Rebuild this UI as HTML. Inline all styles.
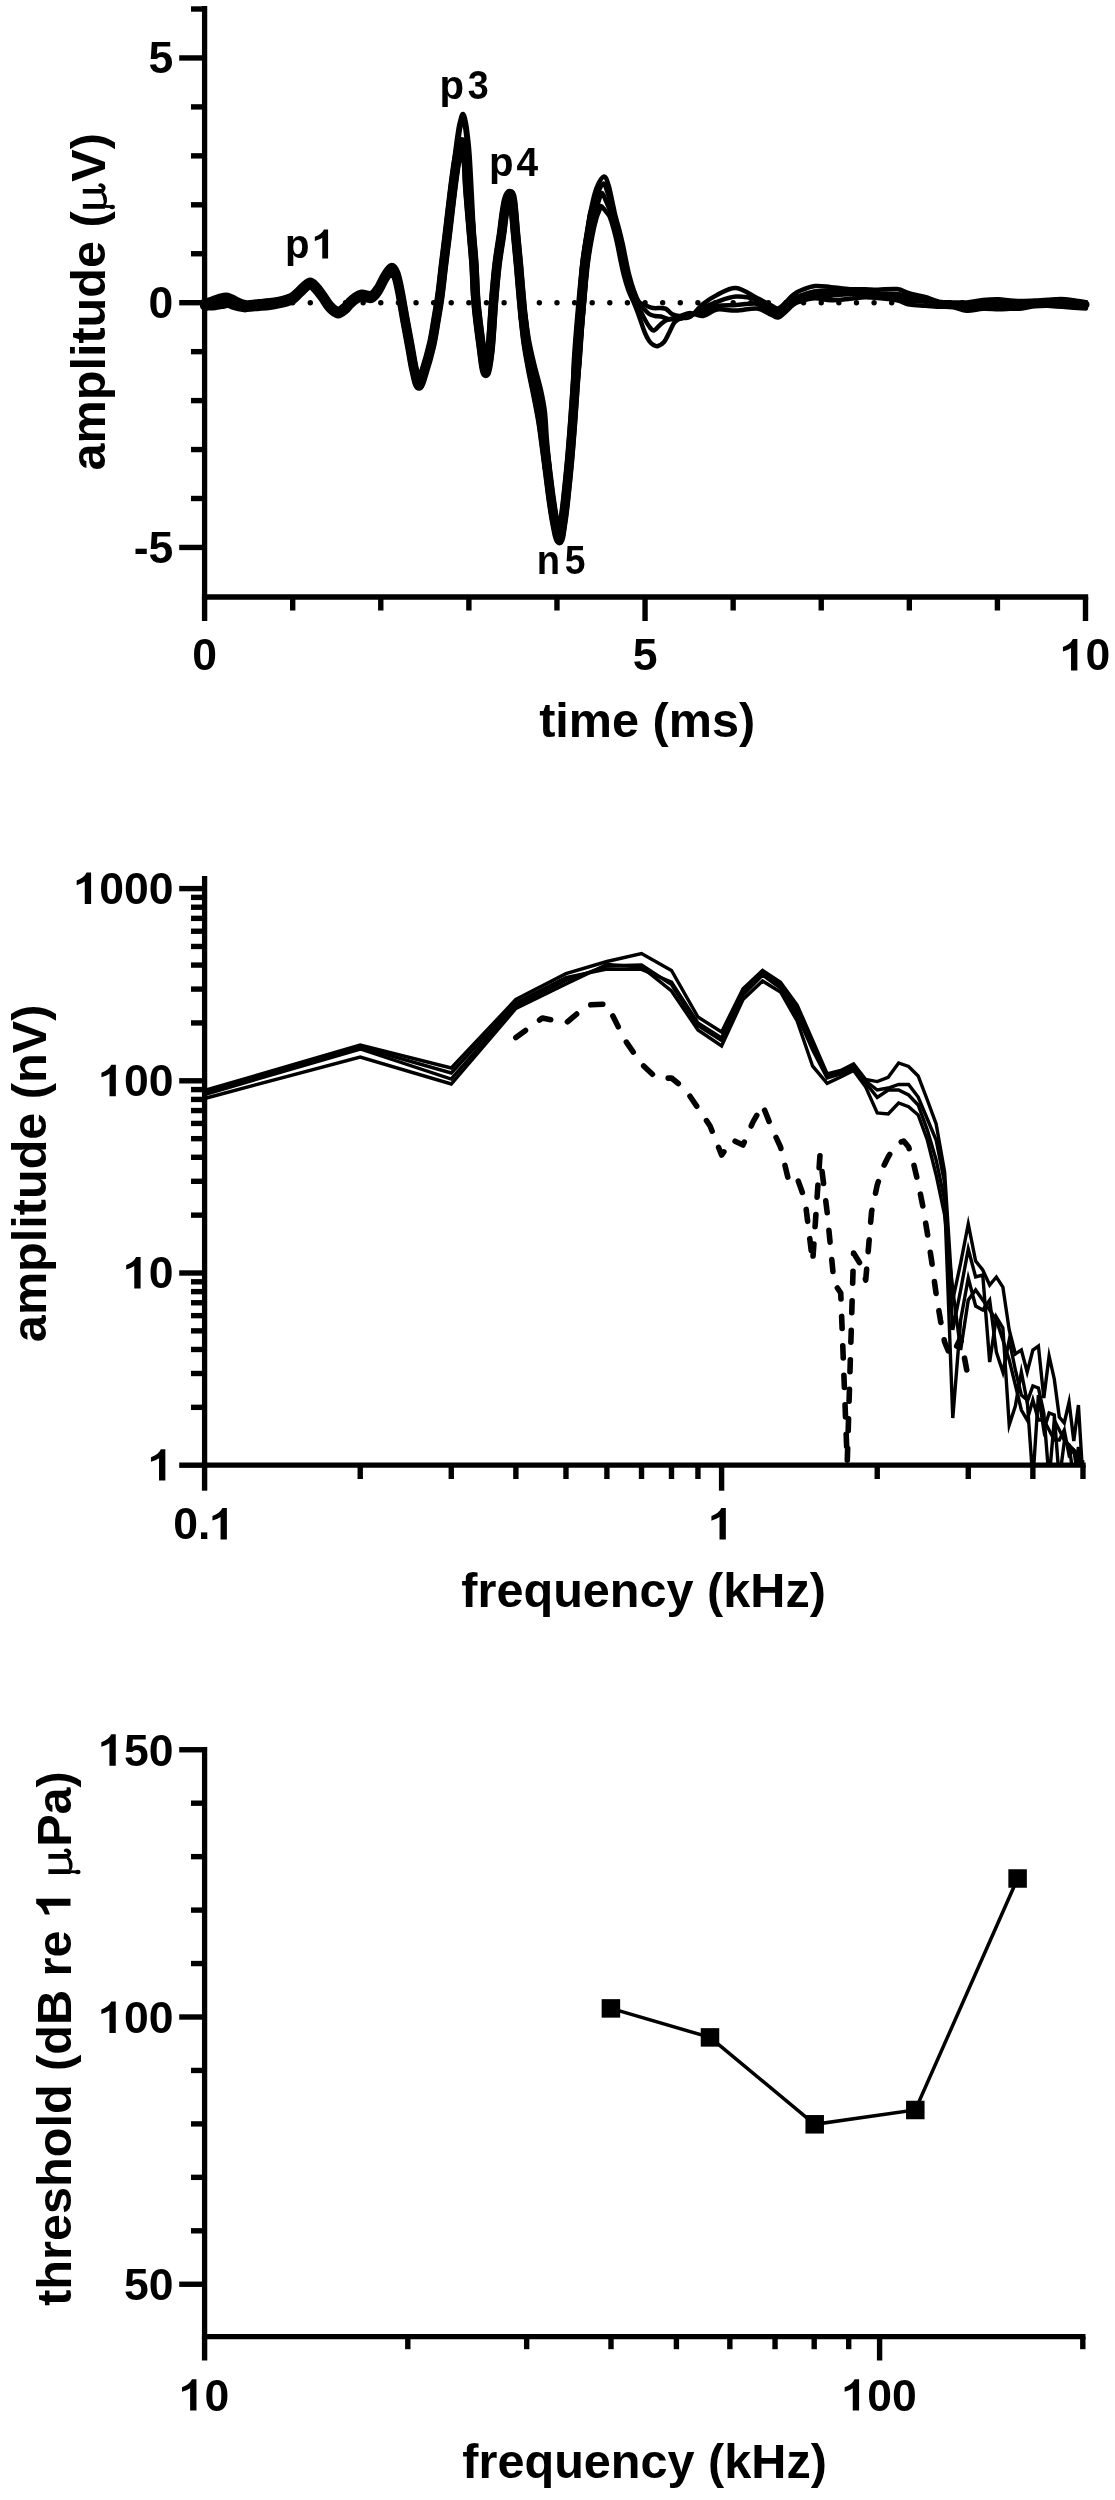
<!DOCTYPE html>
<html><head><meta charset="utf-8"><title>figure</title>
<style>
html,body{margin:0;padding:0;background:#fff;}
svg{display:block;will-change:transform;}
.t{font-family:"Liberation Sans",sans-serif;font-weight:bold;}
.mu{font-family:"Liberation Serif",serif;font-weight:normal;}
</style></head><body>
<svg width="1115" height="2500" viewBox="0 0 1115 2500">
<rect width="1115" height="2500" fill="#fff"/>
<g stroke="#000" stroke-linecap="butt" fill="none">
<line x1="204.6" y1="6" x2="204.6" y2="599.65" stroke-width="5.3"/>
<line x1="179.2" y1="547.45" x2="204.6" y2="547.45" stroke-width="5.4"/>
<line x1="179.2" y1="302.7" x2="204.6" y2="302.7" stroke-width="5.4"/>
<line x1="179.2" y1="57.95" x2="204.6" y2="57.95" stroke-width="5.4"/>
<line x1="191" y1="498.5" x2="204.6" y2="498.5" stroke-width="5.4"/>
<line x1="191" y1="449.55" x2="204.6" y2="449.55" stroke-width="5.4"/>
<line x1="191" y1="400.6" x2="204.6" y2="400.6" stroke-width="5.4"/>
<line x1="191" y1="351.65" x2="204.6" y2="351.65" stroke-width="5.4"/>
<line x1="191" y1="253.75" x2="204.6" y2="253.75" stroke-width="5.4"/>
<line x1="191" y1="204.8" x2="204.6" y2="204.8" stroke-width="5.4"/>
<line x1="191" y1="155.85" x2="204.6" y2="155.85" stroke-width="5.4"/>
<line x1="191" y1="106.9" x2="204.6" y2="106.9" stroke-width="5.4"/>
<line x1="191" y1="9" x2="204.6" y2="9" stroke-width="5.4"/>
<line x1="201.95" y1="597" x2="1088.2" y2="597" stroke-width="5.3"/>
<line x1="204.6" y1="597" x2="204.6" y2="621" stroke-width="5.4"/>
<line x1="645.05" y1="597" x2="645.05" y2="621" stroke-width="5.4"/>
<line x1="1085.5" y1="597" x2="1085.5" y2="621" stroke-width="5.4"/>
<line x1="292.69" y1="597" x2="292.69" y2="610.5" stroke-width="5.4"/>
<line x1="380.78" y1="597" x2="380.78" y2="610.5" stroke-width="5.4"/>
<line x1="468.87" y1="597" x2="468.87" y2="610.5" stroke-width="5.4"/>
<line x1="556.96" y1="597" x2="556.96" y2="610.5" stroke-width="5.4"/>
<line x1="733.14" y1="597" x2="733.14" y2="610.5" stroke-width="5.4"/>
<line x1="821.23" y1="597" x2="821.23" y2="610.5" stroke-width="5.4"/>
<line x1="909.32" y1="597" x2="909.32" y2="610.5" stroke-width="5.4"/>
<line x1="997.41" y1="597" x2="997.41" y2="610.5" stroke-width="5.4"/>
</g>
<g fill="#000">
<text class="t" x="148.45" y="73.25" font-size="44.5">5</text>
<text class="t" x="148.45" y="318" font-size="44.5">0</text>
<text class="t" x="133.63 148.45" y="562.75" font-size="44.5">-5</text>
<text class="t" x="192.23" y="670.4" font-size="44.5">0</text>
<text class="t" x="632.68" y="670.4" font-size="44.5">5</text>
<path transform="translate(1060.75 670.4) scale(44.5)" d="M0.373,0 L0.373,-0.706 L0.272,-0.706 C0.238,-0.628 0.155,-0.562 0.049,-0.526 L0.049,-0.424 C0.118,-0.446 0.186,-0.474 0.231,-0.505 L0.231,0 Z"/>
<text class="t" x="1085.5" y="670.4" font-size="44.5">0</text>
<text class="t" x="539.18 555.36 568.87 612.08 652.61 668.79 712.01 739.04" y="736.8" font-size="48.6">time(ms)</text>
<g transform="translate(104.9 301.8) rotate(-90)">
<g transform="translate(89.41 0) scale(48.6)" stroke="#000" fill="#000"><path d="M0.123,-0.455 L0.123,0 M0.435,-0.455 L0.435,-0.035" stroke-width="0.097"/><path d="M0.123,-0.01 L0.117,0.12" stroke-width="0.055"/><path d="M0.45,-0.035 C0.49,0.0 0.54,-0.005 0.565,-0.06 C0.575,-0.085 0.57,-0.1 0.555,-0.11" stroke-width="0.055" stroke-linecap="round"/><path d="M0.395,-0.06 C0.35,0.025 0.23,0.03 0.16,-0.01" stroke-width="0.06"/><ellipse cx="0.113" cy="0.15" rx="0.046" ry="0.055" stroke="none"/></g>
<text class="t" x="-168.73 -141.7 -98.48 -68.8 -55.3 -41.79 -25.61 4.08 33.77 74.3 120.13 152.54" y="0" font-size="48.6">amplitude(V)</text>
</g>
<text class="t" transform="translate(284.96 258.4) scale(0.98 1)" font-size="41">p</text>
<path transform="translate(312.79 258.4) scale(41)" d="M0.373,0 L0.373,-0.706 L0.272,-0.706 C0.238,-0.628 0.155,-0.562 0.049,-0.526 L0.049,-0.424 C0.118,-0.446 0.186,-0.474 0.231,-0.505 L0.231,0 Z"/>
<text class="t" transform="translate(439.56 98.7) scale(0.98 1)" font-size="41">p</text>
<text class="t" transform="translate(467.74 98.7) scale(0.92 1)" font-size="41">3</text>
<text class="t" transform="translate(489.06 175.7) scale(0.98 1)" font-size="41">p</text>
<text class="t" transform="translate(516.41 175.7) scale(0.95 1)" font-size="41">4</text>
<text class="t" transform="translate(536.78 574.4) scale(0.93 1)" font-size="41">n</text>
<text class="t" transform="translate(564.75 574.4) scale(0.91 1)" font-size="41">5</text>
</g>
<g fill="#000"><circle cx="204.6" cy="302.7" r="2.7"/><circle cx="222.22" cy="302.7" r="2.7"/><circle cx="239.84" cy="302.7" r="2.7"/><circle cx="257.45" cy="302.7" r="2.7"/><circle cx="275.07" cy="302.7" r="2.7"/><circle cx="292.69" cy="302.7" r="2.7"/><circle cx="310.31" cy="302.7" r="2.7"/><circle cx="327.93" cy="302.7" r="2.7"/><circle cx="345.54" cy="302.7" r="2.7"/><circle cx="363.16" cy="302.7" r="2.7"/><circle cx="380.78" cy="302.7" r="2.7"/><circle cx="398.4" cy="302.7" r="2.7"/><circle cx="416.02" cy="302.7" r="2.7"/><circle cx="433.63" cy="302.7" r="2.7"/><circle cx="451.25" cy="302.7" r="2.7"/><circle cx="468.87" cy="302.7" r="2.7"/><circle cx="486.49" cy="302.7" r="2.7"/><circle cx="504.11" cy="302.7" r="2.7"/><circle cx="521.72" cy="302.7" r="2.7"/><circle cx="539.34" cy="302.7" r="2.7"/><circle cx="556.96" cy="302.7" r="2.7"/><circle cx="574.58" cy="302.7" r="2.7"/><circle cx="592.2" cy="302.7" r="2.7"/><circle cx="609.81" cy="302.7" r="2.7"/><circle cx="627.43" cy="302.7" r="2.7"/><circle cx="645.05" cy="302.7" r="2.7"/><circle cx="662.67" cy="302.7" r="2.7"/><circle cx="680.29" cy="302.7" r="2.7"/><circle cx="697.9" cy="302.7" r="2.7"/><circle cx="715.52" cy="302.7" r="2.7"/><circle cx="733.14" cy="302.7" r="2.7"/><circle cx="750.76" cy="302.7" r="2.7"/><circle cx="768.38" cy="302.7" r="2.7"/><circle cx="785.99" cy="302.7" r="2.7"/><circle cx="803.61" cy="302.7" r="2.7"/><circle cx="821.23" cy="302.7" r="2.7"/><circle cx="838.85" cy="302.7" r="2.7"/><circle cx="856.47" cy="302.7" r="2.7"/><circle cx="874.08" cy="302.7" r="2.7"/><circle cx="891.7" cy="302.7" r="2.7"/><circle cx="909.32" cy="302.7" r="2.7"/><circle cx="926.94" cy="302.7" r="2.7"/><circle cx="944.56" cy="302.7" r="2.7"/><circle cx="962.17" cy="302.7" r="2.7"/><circle cx="979.79" cy="302.7" r="2.7"/><circle cx="997.41" cy="302.7" r="2.7"/><circle cx="1015.03" cy="302.7" r="2.7"/><circle cx="1032.65" cy="302.7" r="2.7"/><circle cx="1050.26" cy="302.7" r="2.7"/><circle cx="1067.88" cy="302.7" r="2.7"/><circle cx="1085.5" cy="302.7" r="2.7"/></g>
<g stroke="#000" fill="none" stroke-linecap="round" stroke-linejoin="round">
<path d="M204.6,303.2 C205.83,302.87 209.43,302.03 212,301.2 C214.57,300.37 217.4,298.87 220,298.2 C222.6,297.53 224.93,296.7 227.6,297.2 C230.27,297.7 233.03,299.95 236,301.2 C238.97,302.45 241.57,304.28 245.4,304.7 C249.23,305.12 254.9,304.03 259,303.7 C263.1,303.37 266.67,303.12 270,302.7 C273.33,302.28 276.17,301.78 279,301.2 C281.83,300.62 284.67,299.95 287,299.2 C289.33,298.45 290.83,298.2 293,296.7 C295.17,295.2 297.25,292.6 300,290.2 C302.75,287.8 306.83,282.88 309.5,282.3 C312.17,281.72 313.87,284.63 316,286.7 C318.13,288.77 319.97,291.53 322.3,294.7 C324.63,297.87 327.38,302.95 330,305.7 C332.62,308.45 335.5,310.95 338,311.2 C340.5,311.45 343,308.78 345,307.2 C347,305.62 348.17,303.45 350,301.7 C351.83,299.95 354.03,297.95 356,296.7 C357.97,295.45 359.97,294.45 361.8,294.2 C363.63,293.95 365.35,294.95 367,295.2 C368.65,295.45 369.87,296.78 371.7,295.7 C373.53,294.62 375.78,292.03 378,288.7 C380.22,285.37 382.77,279.23 385,275.7 C387.23,272.17 389.57,267.83 391.4,267.5 C393.23,267.17 394.57,269.83 396,273.7 C397.43,277.57 398.5,283.2 400,290.7 C401.5,298.2 403.33,309.53 405,318.7 C406.67,327.87 408.5,337.53 410,345.7 C411.5,353.87 412.55,361.4 414,367.7 C415.45,374 417.03,383 418.7,383.5 C420.37,384 421.85,377.4 424,370.7 C426.15,364 429.6,351.97 431.6,343.3 C433.6,334.63 434.6,326.97 436,318.7 C437.4,310.43 438.75,302.87 440,293.7 C441.25,284.53 442.28,273.78 443.5,263.7 C444.72,253.62 445.78,245.75 447.3,233.2 C448.82,220.65 450.98,200.98 452.6,188.4 C454.22,175.82 455.47,165.48 457,157.7 C458.53,149.92 460.3,141.7 461.8,141.7 C463.3,141.7 465,149.92 466,157.7 C467,165.48 466.88,175.82 467.8,188.4 C468.72,200.98 470.47,220.65 471.5,233.2 C472.53,245.75 473.25,252.35 474,263.7 C474.75,275.05 474.83,288.03 476,301.3 C477.17,314.57 479.42,331.73 481,343.3 C482.58,354.87 484,369.8 485.5,370.7 C487,371.6 488.67,360.27 490,348.7 C491.33,337.13 492.33,315.47 493.5,301.3 C494.67,287.13 495.67,275.05 497,263.7 C498.33,252.35 500.33,241.53 501.5,233.2 C502.67,224.87 503.17,219.28 504,213.7 C504.83,208.12 505.58,203.07 506.5,199.7 C507.42,196.33 508.5,193.5 509.5,193.5 C510.5,193.5 511.48,193.08 512.5,199.7 C513.52,206.32 514.6,222.53 515.6,233.2 C516.6,243.87 517.67,254.45 518.5,263.7 C519.33,272.95 519.85,280.2 520.6,288.7 C521.35,297.2 522.1,306.03 523,314.7 C523.9,323.37 524.75,332.03 526,340.7 C527.25,349.37 528.87,358.03 530.5,366.7 C532.13,375.37 534.1,384.03 535.8,392.7 C537.5,401.37 539.28,410.03 540.7,418.7 C542.12,427.37 543.13,436.03 544.3,444.7 C545.47,453.37 546.58,462.03 547.7,470.7 C548.82,479.37 549.82,488.37 551,496.7 C552.18,505.03 553.42,513.78 554.8,520.7 C556.18,527.62 557.97,538.2 559.3,538.2 C560.63,538.2 561.75,527.28 562.8,520.7 C563.85,514.12 564.47,509.03 565.6,498.7 C566.73,488.37 568.4,472.03 569.6,458.7 C570.8,445.37 571.8,432.03 572.8,418.7 C573.8,405.37 574.67,392.03 575.6,378.7 C576.53,365.37 577.37,352.03 578.4,338.7 C579.43,325.37 580.73,311.37 581.8,298.7 C582.87,286.03 583.53,273.87 584.8,262.7 C586.07,251.53 588.1,240.03 589.4,231.7 C590.7,223.37 592.07,215.87 592.6,212.7" stroke-width="9.3"/>
<path d="M204.6,305.8 C205.83,305.47 209.43,304.63 212,303.8 C214.57,302.97 217.4,301.47 220,300.8 C222.6,300.13 224.93,299.3 227.6,299.8 C230.27,300.3 233.03,302.55 236,303.8 C238.97,305.05 241.57,306.88 245.4,307.3 C249.23,307.72 254.9,306.63 259,306.3 C263.1,305.97 266.67,305.72 270,305.3 C273.33,304.88 276.17,304.38 279,303.8 C281.83,303.22 284.67,302.55 287,301.8 C289.33,301.05 290.83,300.8 293,299.3 C295.17,297.8 297.25,295.2 300,292.8 C302.75,290.4 306.83,285.48 309.5,284.9 C312.17,284.32 313.87,287.23 316,289.3 C318.13,291.37 319.97,294.13 322.3,297.3 C324.63,300.47 327.38,305.55 330,308.3 C332.62,311.05 335.5,313.55 338,313.8 C340.5,314.05 343,311.38 345,309.8 C347,308.22 348.17,306.05 350,304.3 C351.83,302.55 354.03,300.55 356,299.3 C357.97,298.05 359.97,297.05 361.8,296.8 C363.63,296.55 365.35,297.55 367,297.8 C368.65,298.05 369.87,299.38 371.7,298.3 C373.53,297.22 375.78,294.63 378,291.3 C380.22,287.97 382.77,281.83 385,278.3 C387.23,274.77 389.57,270.43 391.4,270.1 C393.23,269.77 394.57,272.43 396,276.3 C397.43,280.17 398.5,285.8 400,293.3 C401.5,300.8 403.33,312.13 405,321.3 C406.67,330.47 408.5,340.13 410,348.3 C411.5,356.47 412.55,364 414,370.3 C415.45,376.6 417.03,385.6 418.7,386.1 C420.37,386.6 421.85,380 424,373.3 C426.15,366.6 429.6,354.57 431.6,345.9 C433.6,337.23 434.6,329.57 436,321.3 C437.4,313.03 438.75,305.47 440,296.3 C441.25,287.13 442.28,276.38 443.5,266.3 C444.72,256.22 445.78,248.35 447.3,235.8 C448.82,223.25 450.98,203.58 452.6,191 C454.22,178.42 455.47,168.08 457,160.3 C458.53,152.52 460.3,144.3 461.8,144.3 C463.3,144.3 465,152.52 466,160.3 C467,168.08 466.88,178.42 467.8,191 C468.72,203.58 470.47,223.25 471.5,235.8 C472.53,248.35 473.25,254.95 474,266.3 C474.75,277.65 474.83,290.63 476,303.9 C477.17,317.17 479.42,334.33 481,345.9 C482.58,357.47 484,372.4 485.5,373.3 C487,374.2 488.67,362.87 490,351.3 C491.33,339.73 492.33,318.07 493.5,303.9 C494.67,289.73 495.67,277.65 497,266.3 C498.33,254.95 500.33,244.13 501.5,235.8 C502.67,227.47 503.17,221.88 504,216.3 C504.83,210.72 505.58,205.67 506.5,202.3 C507.42,198.93 508.5,196.1 509.5,196.1 C510.5,196.1 511.48,195.68 512.5,202.3 C513.52,208.92 514.6,225.13 515.6,235.8 C516.6,246.47 517.67,257.05 518.5,266.3 C519.33,275.55 519.85,282.8 520.6,291.3 C521.35,299.8 522.1,308.63 523,317.3 C523.9,325.97 524.75,334.63 526,343.3 C527.25,351.97 528.87,360.63 530.5,369.3 C532.13,377.97 534.1,386.63 535.8,395.3 C537.5,403.97 539.28,412.63 540.7,421.3 C542.12,429.97 543.13,438.63 544.3,447.3 C545.47,455.97 546.58,464.63 547.7,473.3 C548.82,481.97 549.82,490.97 551,499.3 C552.18,507.63 553.42,516.38 554.8,523.3 C556.18,530.22 557.97,540.8 559.3,540.8 C560.63,540.8 561.75,529.88 562.8,523.3 C563.85,516.72 564.47,511.63 565.6,501.3 C566.73,490.97 568.4,474.63 569.6,461.3 C570.8,447.97 571.8,434.63 572.8,421.3 C573.8,407.97 574.67,394.63 575.6,381.3 C576.53,367.97 577.37,354.63 578.4,341.3 C579.43,327.97 580.73,313.97 581.8,301.3 C582.87,288.63 583.53,276.47 584.8,265.3 C586.07,254.13 588.1,242.63 589.4,234.3 C590.7,225.97 592.07,218.47 592.6,215.3" stroke-width="9.3"/>
<path d="M207,306 C208.33,305.92 212.5,305.75 215,305.5 C217.5,305.25 219.83,304.83 222,304.5 C224.17,304.17 225.67,303.25 228,303.5 C230.33,303.75 233.17,305.28 236,306 C238.83,306.72 243.5,307.5 245,307.8" stroke-width="9.3"/>
<path d="M523,316 C523.58,320 525,331.83 526.5,340 C528,348.17 530,356.67 532,365 C534,373.33 536.75,382.17 538.5,390 C540.25,397.83 541.5,403.67 542.5,412 C543.5,420.33 543.72,430.67 544.5,440 C545.28,449.33 546.75,463.33 547.2,468" stroke-width="9.3"/>
<path d="M446.5,234.5 C447.33,227.08 449.92,203.75 451.5,190 C453.08,176.25 454.68,162.33 456,152 C457.32,141.67 458.5,133.42 459.4,128 C460.3,122.58 460.82,121.7 461.4,119.5 C461.98,117.3 462.4,114.8 462.9,114.8 C463.4,114.8 463.88,117.3 464.4,119.5 C464.92,121.7 465.3,122.58 466,128 C466.7,133.42 467.8,141.67 468.6,152 C469.4,162.33 470.07,176.25 470.8,190 C471.53,203.75 472.63,227.08 473,234.5" stroke-width="6"/>
<path d="M757,302.5 C759.33,303.58 767.33,307.42 771,309 C774.67,310.58 775.33,313.42 779,312 C782.67,310.58 789.5,303 793,300.5 C796.5,298 796.33,298.25 800,297 C803.67,295.75 809.83,293.58 815,293 C820.17,292.42 825.17,293.5 831,293.5 C836.83,293.5 844.33,293.08 850,293 C855.67,292.92 860.33,292.75 865,293 C869.67,293.25 872.67,294.08 878,294.5 C883.33,294.92 891.73,294.75 897,295.5 C902.27,296.25 904.93,298.17 909.6,299 C914.27,299.83 920.1,299.75 925,300.5 C929.9,301.25 934.33,302.75 939,303.5 C943.67,304.25 948.37,304.33 953,305 C957.63,305.67 961.8,307.5 966.8,307.5 C971.8,307.5 977.73,305.63 983,305 C988.27,304.37 993.9,303.92 998.4,303.7 C1002.9,303.48 1006.07,303.65 1010,303.7 C1013.93,303.75 1017.83,304 1022,304 C1026.17,304 1030.72,303.75 1035,303.7 C1039.28,303.65 1042.7,303.7 1047.7,303.7 C1052.7,303.7 1058.62,303.57 1065,303.7 C1071.38,303.83 1082.5,304.37 1086,304.5" stroke-width="7"/>
<path d="M572.7,420 C572.83,411.33 572.73,385.33 573.5,368 C574.27,350.67 575.83,333.33 577.3,316 C578.77,298.67 580.68,277.83 582.3,264 C583.92,250.17 585.47,242.5 587,233 C588.53,223.5 589.92,214.5 591.5,207 C593.08,199.5 594.42,193.08 596.5,188 C598.58,182.92 602,177 604,176.5 C606,176 607.17,181.08 608.5,185 C609.83,188.92 610.88,195 612,200 C613.12,205 614.02,210 615.25,215 C616.48,220 618.07,225 619.35,230 C620.63,235 621.85,240 622.95,245 C624.05,250 624.9,255 625.95,260 C627,265 627.95,270 629.25,275 C630.55,280 632.12,285.5 633.75,290 C635.38,294.5 636.96,299.42 639,302 C641.04,304.58 643.67,304.5 646,305.5 C648.33,306.5 649.83,307.5 653,308 C656.17,308.5 661.85,307.5 665,308.5 C668.15,309.5 669.4,312.75 671.9,314 C674.4,315.25 676.98,316.17 680,316 C683.02,315.83 686.17,313 690,313 C693.83,313 698.5,316.58 703,316 C707.5,315.42 711.5,310.42 717,309.52 C722.5,308.62 729.33,310.77 736,310.6 C742.67,310.43 751.17,307.83 757,308.49 C762.83,309.15 767.33,313.12 771,314.56 C774.67,316 775.33,318.74 779,317.15 C782.67,315.57 789.5,307.65 793,305.05 C796.5,302.45 796.33,302.68 800,301.56 C803.67,300.43 809.83,298.5 815,298.29 C820.17,298.09 825.17,300.24 831,300.33 C836.83,300.42 844.33,299.36 850,298.83 C855.67,298.31 860.33,297.34 865,297.2 C869.67,297.06 872.67,297.48 878,298 C883.33,298.52 891.73,299.22 897,300.33 C902.27,301.43 904.93,303.71 909.6,304.63 C914.27,305.55 920.1,305.48 925,305.84 C929.9,306.2 934.33,306.56 939,306.79 C943.67,307.02 948.37,306.54 953,307.2 C957.63,307.85 961.8,310.44 966.8,310.71 C971.8,310.99 977.73,309.08 983,308.82 C988.27,308.57 993.9,309.18 998.4,309.18 C1002.9,309.18 1006.07,308.96 1010,308.82 C1013.93,308.69 1017.83,308.79 1022,308.39 C1026.17,307.98 1030.72,306.8 1035,306.38 C1039.28,305.96 1042.7,305.76 1047.7,305.87 C1052.7,305.98 1058.62,306.63 1065,307.06 C1071.38,307.49 1082.5,308.21 1086,308.44" stroke-width="4.5"/>
<path d="M572.7,420 C573.17,411.33 574.4,385.33 575.5,368 C576.6,350.67 577.83,333.33 579.3,316 C580.77,298.67 582.68,277.83 584.3,264 C585.92,250.17 587.47,242.33 589,233 C590.53,223.67 592,214.67 593.5,208 C595,201.33 596.33,197.08 598,193 C599.67,188.92 602,183.83 603.5,183.5 C605,183.17 605.83,187.75 607,191 C608.17,194.25 609.43,199 610.5,203 C611.57,207 612.23,210.5 613.4,215 C614.57,219.5 616.22,225 617.5,230 C618.78,235 620,240 621.1,245 C622.2,250 623.05,255 624.1,260 C625.15,265 626.1,270 627.4,275 C628.7,280 630.22,285.5 631.9,290 C633.58,294.5 635.65,299 637.5,302 C639.35,305 641.05,306 643,308 C644.95,310 647.2,312.67 649.2,314 C651.2,315.33 653.03,315.58 655,316 C656.97,316.42 658.83,316 661,316.5 C663.17,317 665.5,318.58 668,319 C670.5,319.42 673.5,319.17 676,319 C678.5,318.83 680.67,318.67 683,318 C685.33,317.33 686.67,316 690,315 C693.33,314 698.5,313.48 703,312 C707.5,310.52 711.5,307.29 717,306.12 C722.5,304.95 729.33,305.38 736,304.97 C742.67,304.56 751.17,302.94 757,303.64 C762.83,304.35 767.33,307.75 771,309.21 C774.67,310.68 775.33,313.58 779,312.43 C782.67,311.28 789.5,304.44 793,302.3 C796.5,300.16 796.33,300.59 800,299.59 C803.67,298.6 809.83,296.96 815,296.33 C820.17,295.71 825.17,296.35 831,295.85 C836.83,295.35 844.33,293.71 850,293.32 C855.67,292.93 860.33,293.01 865,293.51 C869.67,294.02 872.67,295.49 878,296.35 C883.33,297.21 891.73,297.84 897,298.67 C902.27,299.5 904.93,300.94 909.6,301.33 C914.27,301.72 920.1,300.7 925,300.99 C929.9,301.28 934.33,302.32 939,303.09 C943.67,303.86 948.37,304.46 953,305.6 C957.63,306.74 961.8,309.6 966.8,309.93 C971.8,310.26 977.73,308.38 983,307.58 C988.27,306.77 993.9,305.71 998.4,305.09 C1002.9,304.48 1006.07,304.08 1010,303.9 C1013.93,303.73 1017.83,303.93 1022,304.03 C1026.17,304.13 1030.72,304.21 1035,304.5 C1039.28,304.78 1042.7,305.46 1047.7,305.73 C1052.7,305.99 1058.62,306.26 1065,306.1 C1071.38,305.93 1082.5,304.96 1086,304.73" stroke-width="4.5"/>
<path d="M572.7,420 C573.5,411.33 576.07,385.33 577.5,368 C578.93,350.67 579.83,333.33 581.3,316 C582.77,298.67 584.68,277.83 586.3,264 C587.92,250.17 589.47,241.67 591,233 C592.53,224.33 594.17,217.5 595.5,212 C596.83,206.5 597.92,203.17 599,200 C600.08,196.83 600.92,193 602,193 C603.08,193 604.42,197.67 605.5,200 C606.58,202.33 607.48,204.5 608.5,207 C609.52,209.5 610.4,211.17 611.6,215 C612.8,218.83 614.42,225 615.7,230 C616.98,235 618.2,240 619.3,245 C620.4,250 621.25,255 622.3,260 C623.35,265 624.3,270 625.6,275 C626.9,280 628.45,285.5 630.1,290 C631.75,294.5 633.85,298.67 635.5,302 C637.15,305.33 638.38,307 640,310 C641.62,313 643.53,317.08 645.2,320 C646.87,322.92 648.53,325.75 650,327.5 C651.47,329.25 652.17,331.08 654,330.5 C655.83,329.92 658.83,325.75 661,324 C663.17,322.25 664.67,321 667,320 C669.33,319 672.5,318.42 675,318 C677.5,317.58 679.5,317.83 682,317.5 C684.5,317.17 686.5,317.58 690,316 C693.5,314.42 698.5,310.36 703,308 C707.5,305.64 711.5,303.74 717,301.82 C722.5,299.9 729.33,296.85 736,296.46 C742.67,296.08 751.17,297.79 757,299.5 C762.83,301.21 767.33,304.89 771,306.72 C774.67,308.54 775.33,311.58 779,310.45 C782.67,309.32 789.5,302.26 793,299.93 C796.5,297.6 796.33,297.87 800,296.46 C803.67,295.04 809.83,292.45 815,291.44 C820.17,290.42 825.17,290.53 831,290.37 C836.83,290.2 844.33,290.16 850,290.45 C855.67,290.74 860.33,291.44 865,292.08 C869.67,292.73 872.67,294 878,294.33 C883.33,294.66 891.73,293.72 897,294.07 C902.27,294.41 904.93,295.79 909.6,296.41 C914.27,297.03 920.1,296.82 925,297.8 C929.9,298.79 934.33,301.1 939,302.32 C943.67,303.53 948.37,304.27 953,305.1 C957.63,305.94 961.8,307.57 966.8,307.32 C971.8,307.06 977.73,304.64 983,303.57 C988.27,302.5 993.9,301.29 998.4,300.9 C1002.9,300.5 1006.07,300.93 1010,301.2 C1013.93,301.48 1017.83,302.14 1022,302.55 C1026.17,302.96 1030.72,303.43 1035,303.66 C1039.28,303.88 1042.7,304.1 1047.7,303.89 C1052.7,303.68 1058.62,302.68 1065,302.4 C1071.38,302.12 1082.5,302.24 1086,302.21" stroke-width="4.5"/>
<path d="M572.7,420 C573.75,411.33 577.32,385.33 579,368 C580.68,350.67 581.33,333.33 582.8,316 C584.27,298.67 586.18,277.5 587.8,264 C589.42,250.5 591.05,242.67 592.5,235 C593.95,227.33 595.33,222.17 596.5,218 C597.67,213.83 598.75,212 599.5,210 C600.25,208 600.25,206.17 601,206 C601.75,205.83 603,207.83 604,209 C605,210.17 606.04,211.67 607,213 C607.96,214.33 608.61,214.17 609.75,217 C610.89,219.83 612.57,225.33 613.85,230 C615.13,234.67 616.35,240 617.45,245 C618.55,250 619.4,255 620.45,260 C621.5,265 622.45,270 623.75,275 C625.05,280 626.62,285.5 628.25,290 C629.88,294.5 631.96,298.33 633.5,302 C635.04,305.67 636.2,308.53 637.5,312 C638.8,315.47 640.05,319.3 641.3,322.8 C642.55,326.3 643.68,329.97 645,333 C646.32,336.03 647.78,339 649.2,341 C650.62,343 652.03,344.17 653.5,345 C654.97,345.83 656.25,346.5 658,346 C659.75,345.5 662.17,344.17 664,342 C665.83,339.83 667.2,336.33 669,333 C670.8,329.67 672.63,324.5 674.8,322 C676.97,319.5 679.47,318.83 682,318 C684.53,317.17 686.5,319.33 690,317 C693.5,314.67 698.5,307.68 703,304 C707.5,300.32 711.5,297.57 717,294.9 C722.5,292.24 729.33,287.49 736,288 C742.67,288.52 751.17,295.11 757,298 C762.83,300.88 767.33,303.65 771,305.32 C774.67,306.99 775.33,309.7 779,307.99 C782.67,306.28 789.5,297.92 793,295.05 C796.5,292.17 796.33,292.25 800,290.75 C803.67,289.25 809.83,286.65 815,286.05 C820.17,285.45 825.17,286.65 831,287.16 C836.83,287.68 844.33,288.78 850,289.15 C855.67,289.51 860.33,289.26 865,289.35 C869.67,289.44 872.67,289.73 878,289.68 C883.33,289.63 891.73,288.42 897,289.04 C902.27,289.66 904.93,292.06 909.6,293.39 C914.27,294.72 920.1,295.63 925,297.02 C929.9,298.41 934.33,300.84 939,301.74 C943.67,302.63 948.37,302.28 953,302.39 C957.63,302.49 961.8,302.77 966.8,302.38 C971.8,301.98 977.73,300.52 983,300.01 C988.27,299.49 993.9,299.19 998.4,299.28 C1002.9,299.38 1006.07,300.27 1010,300.56 C1013.93,300.85 1017.83,301 1022,301 C1026.17,301 1030.72,300.78 1035,300.56 C1039.28,300.33 1042.7,299.88 1047.7,299.66 C1052.7,299.43 1058.62,298.78 1065,299.21 C1071.38,299.65 1082.5,301.75 1086,302.26" stroke-width="4.5"/>
</g>
<g stroke="#000" stroke-linecap="butt" fill="none">
<line x1="204.6" y1="876" x2="204.6" y2="1467.85" stroke-width="5.3"/>
<line x1="179.2" y1="1465.2" x2="204.6" y2="1465.2" stroke-width="5.4"/>
<line x1="179.2" y1="1273" x2="204.6" y2="1273" stroke-width="5.4"/>
<line x1="179.2" y1="1080.8" x2="204.6" y2="1080.8" stroke-width="5.4"/>
<line x1="179.2" y1="888.6" x2="204.6" y2="888.6" stroke-width="5.4"/>
<line x1="191" y1="1407.34" x2="204.6" y2="1407.34" stroke-width="5.4"/>
<line x1="191" y1="1373.5" x2="204.6" y2="1373.5" stroke-width="5.4"/>
<line x1="191" y1="1349.48" x2="204.6" y2="1349.48" stroke-width="5.4"/>
<line x1="191" y1="1330.86" x2="204.6" y2="1330.86" stroke-width="5.4"/>
<line x1="191" y1="1315.64" x2="204.6" y2="1315.64" stroke-width="5.4"/>
<line x1="191" y1="1302.77" x2="204.6" y2="1302.77" stroke-width="5.4"/>
<line x1="191" y1="1291.63" x2="204.6" y2="1291.63" stroke-width="5.4"/>
<line x1="191" y1="1281.79" x2="204.6" y2="1281.79" stroke-width="5.4"/>
<line x1="191" y1="1215.14" x2="204.6" y2="1215.14" stroke-width="5.4"/>
<line x1="191" y1="1181.3" x2="204.6" y2="1181.3" stroke-width="5.4"/>
<line x1="191" y1="1157.28" x2="204.6" y2="1157.28" stroke-width="5.4"/>
<line x1="191" y1="1138.66" x2="204.6" y2="1138.66" stroke-width="5.4"/>
<line x1="191" y1="1123.44" x2="204.6" y2="1123.44" stroke-width="5.4"/>
<line x1="191" y1="1110.57" x2="204.6" y2="1110.57" stroke-width="5.4"/>
<line x1="191" y1="1099.43" x2="204.6" y2="1099.43" stroke-width="5.4"/>
<line x1="191" y1="1089.59" x2="204.6" y2="1089.59" stroke-width="5.4"/>
<line x1="191" y1="1022.94" x2="204.6" y2="1022.94" stroke-width="5.4"/>
<line x1="191" y1="989.1" x2="204.6" y2="989.1" stroke-width="5.4"/>
<line x1="191" y1="965.08" x2="204.6" y2="965.08" stroke-width="5.4"/>
<line x1="191" y1="946.46" x2="204.6" y2="946.46" stroke-width="5.4"/>
<line x1="191" y1="931.24" x2="204.6" y2="931.24" stroke-width="5.4"/>
<line x1="191" y1="918.37" x2="204.6" y2="918.37" stroke-width="5.4"/>
<line x1="191" y1="907.23" x2="204.6" y2="907.23" stroke-width="5.4"/>
<line x1="191" y1="897.39" x2="204.6" y2="897.39" stroke-width="5.4"/>
<line x1="201.95" y1="1465.2" x2="1085.67" y2="1465.2" stroke-width="5.3"/>
<line x1="204.6" y1="1465.2" x2="204.6" y2="1490.7" stroke-width="5.4"/>
<line x1="721.6" y1="1465.2" x2="721.6" y2="1490.7" stroke-width="5.4"/>
<line x1="360.23" y1="1465.2" x2="360.23" y2="1479" stroke-width="5.4"/>
<line x1="451.27" y1="1465.2" x2="451.27" y2="1479" stroke-width="5.4"/>
<line x1="515.87" y1="1465.2" x2="515.87" y2="1479" stroke-width="5.4"/>
<line x1="565.97" y1="1465.2" x2="565.97" y2="1479" stroke-width="5.4"/>
<line x1="606.9" y1="1465.2" x2="606.9" y2="1479" stroke-width="5.4"/>
<line x1="641.52" y1="1465.2" x2="641.52" y2="1479" stroke-width="5.4"/>
<line x1="671.5" y1="1465.2" x2="671.5" y2="1479" stroke-width="5.4"/>
<line x1="697.94" y1="1465.2" x2="697.94" y2="1479" stroke-width="5.4"/>
<line x1="877.23" y1="1465.2" x2="877.23" y2="1479" stroke-width="5.4"/>
<line x1="968.27" y1="1465.2" x2="968.27" y2="1479" stroke-width="5.4"/>
<line x1="1032.87" y1="1465.2" x2="1032.87" y2="1479" stroke-width="5.4"/>
<line x1="1082.97" y1="1465.2" x2="1082.97" y2="1479" stroke-width="5.4"/>
</g>
<g fill="#000">
<path transform="translate(74.5 904) scale(44.5)" d="M0.373,0 L0.373,-0.706 L0.272,-0.706 C0.238,-0.628 0.155,-0.562 0.049,-0.526 L0.049,-0.424 C0.118,-0.446 0.186,-0.474 0.231,-0.505 L0.231,0 Z"/>
<text class="t" x="99.25 124 148.75" y="904" font-size="44.5">000</text>
<path transform="translate(99.25 1096.2) scale(44.5)" d="M0.373,0 L0.373,-0.706 L0.272,-0.706 C0.238,-0.628 0.155,-0.562 0.049,-0.526 L0.049,-0.424 C0.118,-0.446 0.186,-0.474 0.231,-0.505 L0.231,0 Z"/>
<text class="t" x="124 148.75" y="1096.2" font-size="44.5">00</text>
<path transform="translate(124 1288.4) scale(44.5)" d="M0.373,0 L0.373,-0.706 L0.272,-0.706 C0.238,-0.628 0.155,-0.562 0.049,-0.526 L0.049,-0.424 C0.118,-0.446 0.186,-0.474 0.231,-0.505 L0.231,0 Z"/>
<text class="t" x="148.75" y="1288.4" font-size="44.5">0</text>
<path transform="translate(148.75 1480.6) scale(44.5)" d="M0.373,0 L0.373,-0.706 L0.272,-0.706 C0.238,-0.628 0.155,-0.562 0.049,-0.526 L0.049,-0.424 C0.118,-0.446 0.186,-0.474 0.231,-0.505 L0.231,0 Z"/>
<path transform="translate(210.28 1539.4) scale(44.5)" d="M0.373,0 L0.373,-0.706 L0.272,-0.706 C0.238,-0.628 0.155,-0.562 0.049,-0.526 L0.049,-0.424 C0.118,-0.446 0.186,-0.474 0.231,-0.505 L0.231,0 Z"/>
<text class="t" x="173.17 197.92" y="1539.4" font-size="44.5">0.</text>
<path transform="translate(709.23 1539.5) scale(44.5)" d="M0.373,0 L0.373,-0.706 L0.272,-0.706 C0.238,-0.628 0.155,-0.562 0.049,-0.526 L0.049,-0.424 C0.118,-0.446 0.186,-0.474 0.231,-0.505 L0.231,0 Z"/>
<text class="t" x="461.31 477.5 496.41 523.44 553.13 582.81 609.84 639.53 666.56 707.09 723.28 750.3 785.4 809.7" y="1607.3" font-size="48.6">frequency(kHz)</text>
<g transform="translate(45.6 1173.4) rotate(-90)">
<text class="t" x="-168.75 -141.72 -98.51 -68.82 -55.32 -41.81 -25.63 4.06 33.74 74.28 90.46 120.15 152.56" y="0" font-size="48.6">amplitude(nV)</text>
</g>
</g>
<defs><clipPath id="c2"><rect x="200" y="860" width="890" height="605.2"/></clipPath></defs>
<g stroke="#000" fill="none" stroke-width="3.4" stroke-linejoin="miter" stroke-miterlimit="6" clip-path="url(#c2)">
<path d="M204.6,1090.5 L360.23,1045 L451.27,1068 L515.87,999.5 L565.97,973.7 L606.9,961.5 L641.52,953.6 L671.5,970.5 L697.94,1017 L721.6,1032 L743,988.7 L762.54,970.4 L780.51,982.3 L797.15,1005 L812.64,1040.4 L827.13,1073.8 L840.74,1070.5 L853.58,1064 L865.72,1079.5 L877.23,1081.6 L888.19,1077.3 L898.63,1063 L908.61,1066.5 L918.17,1076 L927.33,1100 L936.14,1124 L944.62,1172 L952.78,1300 L960.66,1263 L968.27,1224 L975.63,1261 L982.76,1270 L989.67,1285 L996.37,1277 L1002.88,1287 L1009.21,1330 L1015.36,1354 L1021.35,1350 L1027.18,1372 L1032.87,1350 L1038.41,1346 L1043.82,1398 L1049.1,1356 L1054.27,1379 L1059.31,1417 L1064.25,1423 L1069.07,1402 L1073.8,1441 L1078.43,1405 L1082.97,1480"/>
<path d="M204.6,1092.5 L360.23,1047 L451.27,1073 L515.87,1003 L565.97,977.5 L606.9,969 L641.52,969.4 L671.5,982 L697.94,1023 L721.6,1038 L743,991 L762.54,972 L780.51,985 L797.15,1010 L812.64,1044.7 L827.13,1076 L840.74,1072 L853.58,1066 L865.72,1081 L877.23,1090 L888.19,1088 L898.63,1084.5 L908.61,1084.5 L918.17,1097 L927.33,1119 L936.14,1140 L944.62,1183 L952.78,1330 L960.66,1290 L968.27,1249 L975.63,1277 L982.76,1275 L989.67,1362 L996.37,1317 L1002.88,1328 L1009.21,1425 L1015.36,1406 L1021.35,1372 L1027.18,1402 L1032.87,1386 L1038.41,1388 L1043.82,1413 L1049.1,1480 L1054.27,1420 L1059.31,1430 L1064.25,1440 L1069.07,1445 L1073.8,1480 L1078.43,1447 L1082.97,1470"/>
<path d="M204.6,1094.5 L360.23,1049 L451.27,1079 L515.87,1006 L565.97,980.5 L606.9,966 L641.52,965 L671.5,984.5 L697.94,1025.5 L721.6,1040.5 L743,995 L762.54,975 L780.51,988 L797.15,1015 L812.64,1050 L827.13,1078 L840.74,1074 L853.58,1068 L865.72,1083 L877.23,1097.4 L888.19,1090 L898.63,1090 L908.61,1095 L918.17,1105 L927.33,1130 L936.14,1160 L944.62,1200 L952.78,1418 L960.66,1320 L968.27,1278 L975.63,1306 L982.76,1310 L989.67,1300 L996.37,1352 L1002.88,1372 L1009.21,1340 L1015.36,1370 L1021.35,1395 L1027.18,1400 L1032.87,1480 L1038.41,1395 L1043.82,1430 L1049.1,1413 L1054.27,1415 L1059.31,1480 L1064.25,1442 L1069.07,1445 L1073.8,1450 L1078.43,1480 L1082.97,1460"/>
<path d="M204.6,1098.5 L360.23,1057 L451.27,1084 L515.87,1008.5 L565.97,984 L606.9,964.5 L641.52,967 L671.5,991 L697.94,1030 L721.6,1046 L743,999.5 L762.54,981 L780.51,992 L797.15,1021 L812.64,1066.2 L827.13,1083.4 L840.74,1077 L853.58,1070.5 L865.72,1087 L877.23,1113 L888.19,1113.9 L898.63,1103 L908.61,1106.7 L918.17,1115 L927.33,1140 L936.14,1175 L944.62,1215 L952.78,1290 L960.66,1350 L968.27,1300 L975.63,1290 L982.76,1300 L989.67,1310 L996.37,1320 L1002.88,1340 L1009.21,1360 L1015.36,1385 L1021.35,1410 L1027.18,1420 L1032.87,1400 L1038.41,1420 L1043.82,1420 L1049.1,1430 L1054.27,1440 L1059.31,1440 L1064.25,1430 L1069.07,1455 L1073.8,1450 L1078.43,1455 L1082.97,1480"/>
<path d="M515.87,1037.6 L542.31,1018 L565.97,1023 L587.37,1005 L606.9,1004 L624.88,1040 L641.52,1064 L657.01,1078.5 L671.5,1078 L685.11,1089 L697.94,1108 L710.08,1126 L721.6,1155 L732.55,1140 L743,1145 L752.98,1122 L762.54,1105 L771.7,1128 L780.51,1147 L788.98,1182 L797.15,1178 L805.03,1200 L812.64,1262 L820,1155 L827.13,1212 L834.04,1283 L840.74,1293 L847.25,1462 L853.58,1253 L859.73,1263 L865.72,1280 L871.55,1212 L877.23,1185 L882.78,1168 L888.19,1157 L893.47,1148 L898.63,1143 L903.68,1141 L908.61,1147 L913.44,1163 L918.17,1183 L922.8,1206 L927.33,1233 L931.78,1262 L936.14,1294 L940.42,1320 L944.62,1342 L948.74,1352 L952.78,1356 L956.75,1346 L960.66,1338 L964.5,1358 L968.27,1378" stroke-width="5.6" stroke-linecap="round" stroke-linejoin="round" stroke-dasharray="12 17.5"/>
</g>
<g stroke="#000" stroke-linecap="butt" fill="none">
<line x1="204.6" y1="1747" x2="204.6" y2="2339.25" stroke-width="5.3"/>
<line x1="179.2" y1="2284.25" x2="204.6" y2="2284.25" stroke-width="5.4"/>
<line x1="179.2" y1="2017" x2="204.6" y2="2017" stroke-width="5.4"/>
<line x1="179.2" y1="1749.75" x2="204.6" y2="1749.75" stroke-width="5.4"/>
<line x1="191" y1="2230.8" x2="204.6" y2="2230.8" stroke-width="5.4"/>
<line x1="191" y1="2177.35" x2="204.6" y2="2177.35" stroke-width="5.4"/>
<line x1="191" y1="2123.9" x2="204.6" y2="2123.9" stroke-width="5.4"/>
<line x1="191" y1="2070.45" x2="204.6" y2="2070.45" stroke-width="5.4"/>
<line x1="191" y1="1963.55" x2="204.6" y2="1963.55" stroke-width="5.4"/>
<line x1="191" y1="1910.1" x2="204.6" y2="1910.1" stroke-width="5.4"/>
<line x1="191" y1="1856.65" x2="204.6" y2="1856.65" stroke-width="5.4"/>
<line x1="191" y1="1803.2" x2="204.6" y2="1803.2" stroke-width="5.4"/>
<line x1="201.95" y1="2336.6" x2="1085.5" y2="2336.6" stroke-width="5.3"/>
<line x1="204.6" y1="2336.6" x2="204.6" y2="2360.5" stroke-width="5.4"/>
<line x1="879.6" y1="2336.6" x2="879.6" y2="2360.5" stroke-width="5.4"/>
<line x1="407.8" y1="2336.6" x2="407.8" y2="2349.2" stroke-width="5.4"/>
<line x1="526.66" y1="2336.6" x2="526.66" y2="2349.2" stroke-width="5.4"/>
<line x1="610.99" y1="2336.6" x2="610.99" y2="2349.2" stroke-width="5.4"/>
<line x1="676.4" y1="2336.6" x2="676.4" y2="2349.2" stroke-width="5.4"/>
<line x1="729.85" y1="2336.6" x2="729.85" y2="2349.2" stroke-width="5.4"/>
<line x1="775.04" y1="2336.6" x2="775.04" y2="2349.2" stroke-width="5.4"/>
<line x1="814.19" y1="2336.6" x2="814.19" y2="2349.2" stroke-width="5.4"/>
<line x1="848.71" y1="2336.6" x2="848.71" y2="2349.2" stroke-width="5.4"/>
<line x1="1082.8" y1="2336.6" x2="1082.8" y2="2349.2" stroke-width="5.4"/>
</g>
<g fill="#000">
<path transform="translate(99.15 1765.65) scale(44.5)" d="M0.373,0 L0.373,-0.706 L0.272,-0.706 C0.238,-0.628 0.155,-0.562 0.049,-0.526 L0.049,-0.424 C0.118,-0.446 0.186,-0.474 0.231,-0.505 L0.231,0 Z"/>
<text class="t" x="123.9 148.65" y="1765.65" font-size="44.5">50</text>
<path transform="translate(99.15 2032.9) scale(44.5)" d="M0.373,0 L0.373,-0.706 L0.272,-0.706 C0.238,-0.628 0.155,-0.562 0.049,-0.526 L0.049,-0.424 C0.118,-0.446 0.186,-0.474 0.231,-0.505 L0.231,0 Z"/>
<text class="t" x="123.9 148.65" y="2032.9" font-size="44.5">00</text>
<text class="t" x="123.9 148.65" y="2300.15" font-size="44.5">50</text>
<path transform="translate(179.85 2410.6) scale(44.5)" d="M0.373,0 L0.373,-0.706 L0.272,-0.706 C0.238,-0.628 0.155,-0.562 0.049,-0.526 L0.049,-0.424 C0.118,-0.446 0.186,-0.474 0.231,-0.505 L0.231,0 Z"/>
<text class="t" x="204.6" y="2410.6" font-size="44.5">0</text>
<path transform="translate(842.48 2410.6) scale(44.5)" d="M0.373,0 L0.373,-0.706 L0.272,-0.706 C0.238,-0.628 0.155,-0.562 0.049,-0.526 L0.049,-0.424 C0.118,-0.446 0.186,-0.474 0.231,-0.505 L0.231,0 Z"/>
<text class="t" x="867.23 891.97" y="2410.6" font-size="44.5">00</text>
<text class="t" x="462.31 478.5 497.41 524.44 554.13 583.81 610.84 640.53 667.56 708.09 724.28 751.3 786.4 810.7" y="2477.8" font-size="48.6">frequency(kHz)</text>
<g transform="translate(70.5 2038.5) rotate(-90)">
<path transform="translate(121.51 0) scale(48.6)" d="M0.373,0 L0.373,-0.706 L0.272,-0.706 C0.238,-0.628 0.155,-0.562 0.049,-0.526 L0.049,-0.424 C0.118,-0.446 0.186,-0.474 0.231,-0.505 L0.231,0 Z"/>
<g transform="translate(160.97 0) scale(48.6)" stroke="#000" fill="#000"><path d="M0.123,-0.455 L0.123,0 M0.435,-0.455 L0.435,-0.035" stroke-width="0.097"/><path d="M0.123,-0.01 L0.117,0.12" stroke-width="0.055"/><path d="M0.45,-0.035 C0.49,0.0 0.54,-0.005 0.565,-0.06 C0.575,-0.085 0.57,-0.1 0.555,-0.11" stroke-width="0.055" stroke-linecap="round"/><path d="M0.395,-0.06 C0.35,0.025 0.23,0.03 0.16,-0.01" stroke-width="0.06"/><ellipse cx="0.113" cy="0.15" rx="0.046" ry="0.055" stroke="none"/></g>
<text class="t" x="-267.32 -251.13 -221.44 -202.53 -175.5 -148.47 -118.79 -89.1 -75.6 -32.41 -16.22 13.46 62.06 80.98 191.69 224.1 251.13" y="0" font-size="48.6">threshold(dBrePa)</text>
</g>
</g>
<path d="M610.9,2008.4 L710,2037.4 L814.7,2124.3 L915.3,2110 L1017.6,1878.5" stroke="#000" stroke-width="3.5" fill="none"/>
<g fill="#000"><rect x="601.65" y="1999.15" width="18.5" height="18.5"/><rect x="700.75" y="2028.15" width="18.5" height="18.5"/><rect x="805.45" y="2115.05" width="18.5" height="18.5"/><rect x="906.05" y="2100.75" width="18.5" height="18.5"/><rect x="1008.35" y="1869.25" width="18.5" height="18.5"/></g>
</svg>
</body></html>
